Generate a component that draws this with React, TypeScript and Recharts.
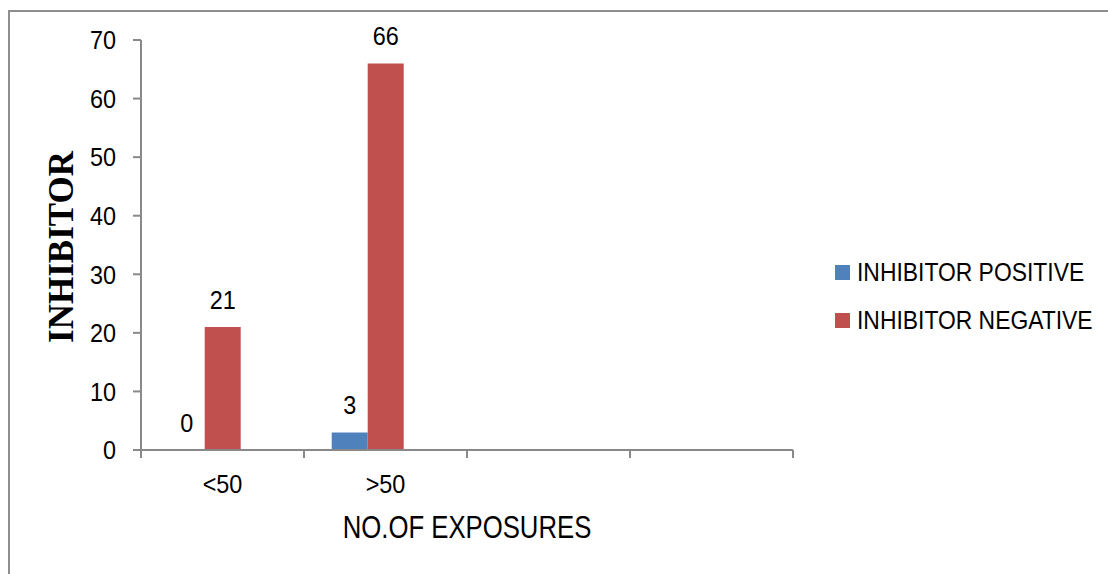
import React from 'react';
import { BarChart, Bar, XAxis, YAxis, Legend, LabelList, Label } from 'recharts';

const categories = ['<50', '>50', '', ' '];
const inhibitorPositive = [0, 3, null, null];
const inhibitorNegative = [21, 66, null, null];
const yTicks = [0, 10, 20, 30, 40, 50, 60, 70];

const series = [
  { key: 'positive', name: 'INHIBITOR POSITIVE', color: '#4F81BD' },
  { key: 'negative', name: 'INHIBITOR NEGATIVE', color: '#C0504D' },
];

const data = categories.map((name, i) => ({
  name,
  positive: inhibitorPositive[i],
  negative: inhibitorNegative[i],
}));

const FONT = '"Liberation Sans", Arial, sans-serif';
const AXIS = '#898989';

// no narrow face installed, so squeeze the regular one horizontally
const NarrowText = ({ x, y, size, squeeze = 0.83, anchor = 'middle', dy = 0, children }: any) => (
  <text
    transform={`translate(${x}, ${y}) scale(${squeeze}, 1)`}
    dy={dy}
    textAnchor={anchor}
    fontFamily={FONT}
    fontSize={size}
    fill="#000"
  >
    {children}
  </text>
);

// category ticks sit on the band edges, labels in the middle
const CategoryTick = (props: any) => {
  const { x, y, payload, index, visibleTicksCount } = props;
  const half = payload?.offset ?? 81.5;
  const axisY = y - 8;
  const last = index === (visibleTicksCount ?? 4) - 1;
  return (
    <g>
      <line x1={x - half} x2={x - half} y1={axisY} y2={axisY + 8} stroke={AXIS} strokeWidth={2} />
      {last && <line x1={x + half} x2={x + half} y1={axisY} y2={axisY + 8} stroke={AXIS} strokeWidth={2} />}
      <NarrowText x={x} y={axisY + 43} size={26} squeeze={0.9}>
        {payload.value}
      </NarrowText>
    </g>
  );
};

const ValueTick = (props: any) => {
  const { x, y, payload } = props;
  return (
    <NarrowText x={x} y={y} size={26} squeeze={0.9} anchor="end" dy="0.355em">
      {payload.value}
    </NarrowText>
  );
};

const valueLabel = (props: any) => {
  const { x, y, width, value } = props;
  if (value === null || value === undefined) return null;
  return (
    <NarrowText x={x + width / 2} y={y - 18} size={26} squeeze={0.9}>
      {value}
    </NarrowText>
  );
};

const yTitle = (props: any) => {
  const vb = props.viewBox;
  const cx = 73;
  const cy = vb.y + vb.height / 2 + 2;
  return (
    <text
      x={cx}
      y={cy}
      transform={`rotate(-90, ${cx}, ${cy})`}
      textAnchor="middle"
      fontFamily='"Liberation Serif", "Times New Roman", serif'
      fontWeight="bold"
      fontSize={35}
      fill="#000"
    >
      INHIBITOR
    </text>
  );
};

const xTitle = (props: any) => {
  const vb = props.viewBox;
  return (
    <NarrowText x={vb.x + vb.width / 2} y={vb.y + 88} size={31} squeeze={0.83}>
      NO.OF EXPOSURES
    </NarrowText>
  );
};

const renderLegend = () => (
  <div style={{ fontFamily: FONT, fontSize: 26, color: '#000' }}>
    {series.map((s) => (
      <div key={s.key} style={{ display: 'flex', alignItems: 'center', height: 48, whiteSpace: 'nowrap' }}>
        <span style={{ display: 'inline-block', width: 15, height: 15, background: s.color, marginRight: 7, flex: 'none' }} />
        <span
          style={{
            display: 'inline-block',
            lineHeight: '26px',
            transform: 'scaleX(0.88)',
            transformOrigin: 'left center',
          }}
        >
          {s.name}
        </span>
      </div>
    ))}
  </div>
);

export default function App() {
  return (
    <div style={{ position: 'fixed', left: 0, top: 0, width: 1108, height: 574, overflow: 'hidden', background: '#fff' }}>
      <div
        style={{
          position: 'absolute',
          left: 8,
          top: 10,
          width: 1200,
          height: 700,
          borderTop: '2px solid #8e8e8e',
          borderLeft: '2px solid #8e8e8e',
        }}
      />
      <div style={{ position: 'absolute', left: 0, top: 0 }}>
        <BarChart
          width={1108}
          height={574}
          data={data}
          margin={{ top: 40, right: 315, bottom: 0, left: 0 }}
          barCategoryGap="17%"
          barGap={0}
        >
          <XAxis
            dataKey="name"
            height={124}
            axisLine={{ stroke: AXIS, strokeWidth: 2 }}
            tickLine={false}
            tickSize={8}
            tickMargin={0}
            interval={0}
            tick={<CategoryTick />}
          >
            <Label content={xTitle} />
          </XAxis>
          <YAxis
            width={141}
            domain={[0, 70]}
            ticks={yTicks}
            interval={0}
            axisLine={{ stroke: AXIS, strokeWidth: 2 }}
            tickLine={{ stroke: AXIS, strokeWidth: 2 }}
            tickSize={8}
            tickMargin={17}
            tick={<ValueTick />}
          >
            <Label content={yTitle} />
          </YAxis>
          <Legend
            layout="horizontal"
            verticalAlign="middle"
            align="center"
            content={renderLegend}
            wrapperStyle={{ left: 835, top: 248, width: 273 }}
          />
          {series.map((s) => (
            <Bar
              key={s.key}
              dataKey={s.key}
              name={s.name}
              fill={s.color}
              minPointSize={0.01}
              isAnimationActive={false}
            >
              <LabelList dataKey={s.key} content={valueLabel} />
            </Bar>
          ))}
          {/* empty third slot keeps the pair left of the category centre */}
          <Bar dataKey="spare" legendType="none" fill="transparent" isAnimationActive={false} />
        </BarChart>
      </div>
    </div>
  );
}
